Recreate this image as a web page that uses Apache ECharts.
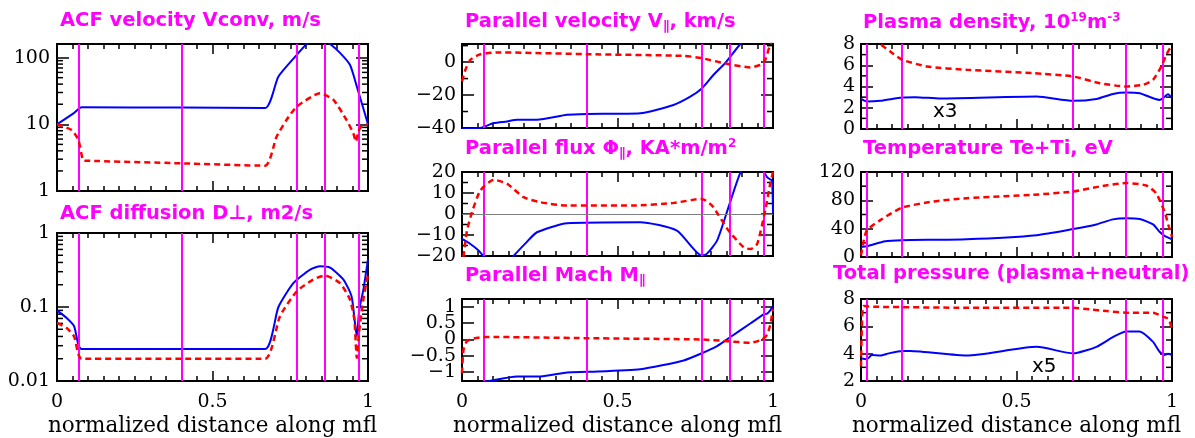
<!DOCTYPE html>
<html><head><meta charset="utf-8">
<script src="https://cdn.jsdelivr.net/npm/echarts@6/dist/echarts.min.js"></script>
<style>html,body{margin:0;padding:0;background:#fff}#c{width:1195px;height:438px}</style>
</head><body><div id="c"></div><script>
// ---------- data ----------
const xName = 'normalized distance along mfl';
const sepLeft = [0.071, 0.400, 0.771, 0.863, 0.974];
const sepRight = [0.020, 0.131, 0.683, 0.854, 0.970];

// Panel 1: ACF velocity Vconv (log)
const velX_b = [0, 0.053, 0.079, 0.40, 0.669, 0.712, 0.771, 0.803, 0.84, 0.878, 0.91, 0.942, 0.964, 1];
const velY_b = [10, 14.6, 18, 17.8, 17.5, 52, 110, 160, 210, 160, 118, 78, 37, 10];
const velX_r = [0, 0.047, 0.069, 0.083, 0.09, 0.40, 0.669, 0.706, 0.738, 0.771, 0.846, 0.889, 0.931, 0.953, 0.961, 0.969, 0.98, 1];
const velY_r = [10, 8.2, 5.8, 2.9, 2.85, 2.6, 2.4, 6.5, 11.6, 18.4, 29.2, 23.2, 11.6, 7.3, 5.5, 7.8, 9.4, 10];
const velMinor = [2,3,4,5,6,7,8,9,20,30,40,50,60,70,80,90];

// Panel 2: ACF diffusion (log)
const difX_b = [0, 0.031, 0.055, 0.079, 0.40, 0.669, 0.712, 0.76, 0.814, 0.846, 0.878, 0.921, 0.947, 0.958, 0.964, 0.972, 0.985, 1];
const difY_b = [0.090, 0.071, 0.055, 0.027, 0.027, 0.027, 0.10, 0.21, 0.32, 0.355, 0.34, 0.235, 0.14, 0.061, 0.040, 0.093, 0.17, 0.44];
const difX_r = [0, 0.031, 0.055, 0.079, 0.40, 0.669, 0.717, 0.771, 0.824, 0.862, 0.91, 0.942, 0.956, 0.964, 0.971, 0.985, 1];
const difY_r = [0.061, 0.052, 0.040, 0.020, 0.020, 0.020, 0.075, 0.163, 0.235, 0.266, 0.21, 0.126, 0.068, 0.0206, 0.045, 0.126, 0.274];
const difMinor = [0.02,0.03,0.04,0.05,0.06,0.07,0.08,0.09,0.2,0.3,0.4,0.5,0.6,0.7,0.8,0.9];

// Panel 3: Parallel velocity
const vpX_b = [0, 0.059, 0.102, 0.145, 0.177, 0.241, 0.338, 0.402, 0.573, 0.68, 0.734, 0.771, 0.809, 0.846, 0.895, 0.95, 1];
const vpY_b = [-40.5, -40, -37, -36, -35, -35, -32, -31.5, -31, -26, -21, -16, -7.7, -0.6, 11, 22, 32];
const vpX_r = [0, 0.011, 0.027, 0.059, 0.123, 0.402, 0.713, 0.771, 0.852, 0.927, 0.96, 0.975, 0.989, 1];
const vpY_r = [-11.7, -4.6, 1.4, 4.8, 5.9, 4.8, 3.8, 2.4, -1, -3.2, -1.6, 1.4, 9.5, 14];
const vpMajor = [-40, -20, 0];
const vpMinor = [-30, -10, 10];

// Panel 4: Parallel flux
const flX_b = [0, 0.027, 0.054, 0.07, 0.09, 0.12, 0.145, 0.166, 0.204, 0.241, 0.338, 0.573, 0.691, 0.771, 0.787, 0.82, 0.857, 0.895, 0.93, 0.97, 0.981, 0.991, 0.997, 1];
const flY_b = [-11.9, -14.3, -17.5, -20.3, -24, -26, -24, -20, -14, -8.7, -4.4, -3.9, -7.9, -19.8, -19, -12.7, 3.3, 19.7, 28, 20, 17.6, 16.5, 16, 0.5];
const flX_r = [0, 0.005, 0.016, 0.032, 0.059, 0.102, 0.145, 0.198, 0.252, 0.338, 0.552, 0.681, 0.771, 0.804, 0.857, 0.906, 0.927, 0.949, 0.975, 0.991, 1];
const flY_r = [-30, -20, -8, 0.8, 11.2, 16.3, 14.4, 8, 5.6, 4, 4, 5.3, 7.2, 4, -7.9, -15.9, -16.7, -14.3, 1.7, 14.4, 20];
const flMajor = [-20, -10, 0, 10, 20];
const flMinor = [-15, -5, 5, 15];

// Panel 5: Parallel Mach
const maX_b = [0, 0.03, 0.06, 0.091, 0.177, 0.252, 0.338, 0.402, 0.573, 0.713, 0.771, 0.82, 0.862, 0.927, 0.97, 0.981, 0.991, 1];
const maY_b = [-1.45, -1.4, -1.33, -1.26, -1.13, -1.13, -1.01, -0.99, -0.91, -0.64, -0.42, -0.2, 0.07, 0.49, 0.77, 0.79, 0.89, 1.03];
const maX_r = [0, 0.005, 0.016, 0.038, 0.07, 0.402, 0.771, 0.852, 0.927, 0.965, 0.981, 0.991, 1];
const maY_r = [-1.03, -0.3, -0.05, 0.03, 0.08, 0.04, 0, -0.05, -0.1, 0, 0.15, 0.44, 0.94];
const maMajor = [-1, 0, 1];
const maMajorHalf = [-0.5, 0.5];
const maMinor = [];

// Panel 6: Plasma density
const deX_b = [0, 0.019, 0.062, 0.132, 0.175, 0.255, 0.565, 0.682, 0.757, 0.81, 0.853, 0.896, 0.96, 0.971, 0.987, 1];
const deY_b = [2.83, 2.58, 2.65, 2.96, 3.0, 2.87, 3.05, 2.65, 2.83, 3.3, 3.43, 3.37, 2.74, 2.9, 3.28, 2.9];
const deX_r = [0, 0.03, 0.062, 0.094, 0.132, 0.212, 0.34, 0.554, 0.682, 0.768, 0.853, 0.907, 0.939, 0.966, 0.982, 1];
const deY_r = [10, 9, 8, 7.3, 6.52, 5.89, 5.57, 5.26, 4.94, 4.31, 4.0, 4.16, 4.63, 5.9, 7.0, 7.94];
const deMajor = [0, 2, 4, 6, 8];
const deMinor = [1, 3, 5, 7];

// Panel 7: Temperature
const teX_b = [0, 0.019, 0.078, 0.132, 0.34, 0.565, 0.682, 0.757, 0.81, 0.853, 0.896, 0.939, 0.96, 0.976, 1];
const teY_b = [14.2, 15.2, 22.3, 23.7, 25.1, 30.8, 39.4, 46, 53.1, 54.6, 53.6, 46, 35.6, 29.9, 25.1];
const teX_r = [0, 0.009, 0.019, 0.062, 0.132, 0.233, 0.34, 0.554, 0.682, 0.768, 0.853, 0.917, 0.949, 0.976, 0.99, 1];
const teY_r = [2.4, 23.7, 38, 52, 69.7, 78.3, 83, 87.8, 92.5, 99.6, 104.4, 101, 90, 64, 42.7, 28.5];
const teMajor = [0, 40, 80, 120];
const teMinor = [20, 60, 100];

// Panel 8: Total pressure
const prX_b = [0, 0.019, 0.035, 0.062, 0.089, 0.132, 0.158, 0.34, 0.565, 0.682, 0.757, 0.81, 0.853, 0.896, 0.939, 0.96, 0.976, 0.987, 1];
const prY_b = [3.67, 3.6, 3.9, 3.86, 4.02, 4.19, 4.19, 3.86, 4.5, 4.02, 4.5, 5.21, 5.62, 5.62, 4.86, 4.14, 3.9, 4.0, 3.9];
const prX_r = [0, 0.003, 0.009, 0.051, 0.34, 0.682, 0.736, 0.79, 0.853, 0.939, 0.971, 0.99, 1];
const prY_r = [3.07, 6.05, 7.48, 7.43, 7.36, 7.36, 7.24, 7.12, 7.0, 7.0, 6.71, 6.52, 5.69];
const prMajor = [2, 4, 6, 8];
const prMinor = [3, 5, 7];

const titles = [
  'ACF velocity Vconv, m/s',
  'ACF diffusion D⊥, m2/s',
  'Parallel velocity V{s|∥}, km/s',
  'Parallel flux Φ{s|∥}, KA*m/m{p|2}',
  'Parallel Mach M{s|∥}',
  'Plasma density, 10{p|19}m{p|-3}',
  'Temperature Te+Ti, eV',
  'Total pressure (plasma+neutral)'
];

// ---------- layout ----------
const BLUE = '#0000ff', RED = '#ff0000', MAG = '#ff00ff';
const W = 311;
const panels = [
  {left:57, top:44, h:147, log:true, yMin:1, yMax:160, maxLabel:false, minor:velMinor, seps:sepLeft, bx:velX_b, by:velY_b, rx:velX_r, ry:velY_r, bottom:false, tl:60, tt:10},
  {left:57, top:233, h:149, log:true, yMin:0.01, yMax:1, maxLabel:true, minor:difMinor, seps:sepLeft, bx:difX_b, by:difY_b, rx:difX_r, ry:difY_r, bottom:true, tl:60, tt:203},
  {left:462, top:44, h:84, yMin:-40, yMax:11, major:vpMajor, minor:vpMinor, seps:sepLeft, bx:vpX_b, by:vpY_b, rx:vpX_r, ry:vpY_r, bottom:false, tl:465, tt:11},
  {left:462, top:172, h:84, yMin:-20, yMax:20, major:flMajor, minor:flMinor, seps:sepLeft, bx:flX_b, by:flY_b, rx:flX_r, ry:flY_r, bottom:false, tl:465, tt:138, zero:true},
  {left:462, top:299, h:84, yMin:-1.27, yMax:1.24, major:maMajor, major2:maMajorHalf, minor:maMinor, seps:sepLeft, bx:maX_b, by:maY_b, rx:maX_r, ry:maY_r, bottom:true, tl:465, tt:265},
  {left:861, top:44, h:85, yMin:0, yMax:8, major:deMajor, minor:deMinor, seps:sepRight, bx:deX_b, by:deY_b, rx:deX_r, ry:deY_r, bottom:false, tl:863, tt:12},
  {left:861, top:172, h:85, yMin:0, yMax:120, major:teMajor, minor:teMinor, seps:sepRight, bx:teX_b, by:teY_b, rx:teX_r, ry:teY_r, bottom:false, tl:863, tt:138},
  {left:861, top:299, h:84, yMin:2, yMax:8, major:prMajor, minor:prMinor, seps:sepRight, bx:prX_b, by:prY_b, rx:prX_r, ry:prY_r, bottom:true, tl:833, tt:263}
];

const tickLine = {color:'#000', width:1.5};
const labelFont = {fontFamily:'DejaVu Serif', fontSize:19, color:'#000'};
const fmt = v => (v < 0 ? '\u2212' + Math.abs(v) : String(v));
const zip = (xs, ys) => xs.map((x, k) => [x, ys[k]]);

const grids = [], xAxes = [], yAxes = [], series = [], titleOpts = [];
panels.forEach((p, i) => {
  grids.push({left:p.left, top:p.top, width:W, height:p.h, show:true, borderColor:'#000', borderWidth:2, backgroundColor:'transparent'});
  const xb = xAxes.length;
  const xCommon = {gridIndex:i, type:'value', min:0, max:1, interval:0.5,
    axisLine:{show:false, onZero:false}, splitLine:{show:false}, minorSplitLine:{show:false},
    axisTick:{show:true, inside:true, length:10, lineStyle:tickLine},
    minorTick:{show:true, splitNumber:10, length:5, lineStyle:tickLine}};
  xAxes.push(Object.assign({}, xCommon, {position:'bottom',
    axisLabel:Object.assign({show:p.bottom, margin:12, hideOverlap:false}, labelFont),
    name:p.bottom ? xName : '', nameLocation:'middle', nameGap:34,
    nameTextStyle:{fontFamily:'DejaVu Serif', fontSize:21.5, color:'#000'}}));
  xAxes.push(Object.assign({}, xCommon, {position:'top', axisLabel:{show:false}}));

  const yb = yAxes.length;
  let yCommon;
  if (p.log) {
    yCommon = {gridIndex:i, type:'log', logBase:10, min:p.yMin, max:p.yMax,
      axisLine:{show:false, onZero:false}, splitLine:{show:false},
      axisTick:{show:true, inside:true, length:12, lineStyle:tickLine}};
    yAxes.push(Object.assign({}, yCommon, {position:'left',
      axisLabel:Object.assign({margin:7, showMaxLabel:p.maxLabel, hideOverlap:false, formatter:v => String(v)}, labelFont)}));
    yAxes.push(Object.assign({}, yCommon, {position:'right', axisLabel:{show:false}}));
  } else {
    const allMajor = p.major.concat(p.major2 || []);
    yCommon = {gridIndex:i, type:'value', min:p.yMin, max:p.yMax,
      axisLine:{show:false, onZero:false}, splitLine:{show:false},
      axisTick:{show:true, inside:true, length:12, customValues:allMajor, lineStyle:tickLine}};
    yAxes.push(Object.assign({}, yCommon, {position:'left',
      axisLabel:Object.assign({margin:6, customValues:p.major, hideOverlap:false,
        showMinLabel:true, showMaxLabel:true, formatter:fmt}, labelFont)}));
    yAxes.push(Object.assign({}, yCommon, {position:'right', axisLabel:{show:false}}));
    if (p.major2) {
      // second label layer so that closely spaced labels are all shown
      yAxes.push(Object.assign({}, yCommon, {position:'left', axisTick:{show:false},
        axisLabel:Object.assign({margin:6, customValues:p.major2, hideOverlap:false, formatter:fmt}, labelFont)}));
    }
  }

  // minor y ticks on both sides
  series.push({type:'custom', xAxisIndex:xb, yAxisIndex:yb, silent:true, clip:false, z:3,
    data:p.minor.map(v => [0, v]),
    renderItem:(params, api) => {
      const v = api.value(1);
      const a = api.coord([0, v]), b = api.coord([1, v]);
      return {type:'group', children:[
        {type:'line', shape:{x1:a[0], y1:a[1], x2:a[0] + 6, y2:a[1]}, style:{stroke:'#000', lineWidth:1.5}},
        {type:'line', shape:{x1:b[0], y1:b[1], x2:b[0] - 6, y2:b[1]}, style:{stroke:'#000', lineWidth:1.5}}
      ]};
    }});

  const ml = p.seps.map(v => ({xAxis:v}));
  if (p.zero) ml.push({yAxis:0, lineStyle:{color:'#808080', width:1, type:'solid'}});
  series.push({type:'line', xAxisIndex:xb, yAxisIndex:yb, data:[], silent:true, z:2,
    markLine:{silent:true, symbol:['none','none'], label:{show:false}, animation:false,
      lineStyle:{color:MAG, width:2, type:'solid'}, data:ml}});
  series.push({type:'line', xAxisIndex:xb, yAxisIndex:yb, data:zip(p.bx, p.by), showSymbol:false,
    smooth:0.2, clip:true, z:4, color:BLUE, lineStyle:{color:BLUE, width:2}});
  series.push({type:'line', xAxisIndex:xb, yAxisIndex:yb, data:zip(p.rx, p.ry), showSymbol:false,
    smooth:0.2, clip:true, z:5, color:RED, lineStyle:{color:RED, width:2.5, type:[6, 4]}});

  titleOpts.push({text:titles[i], left:p.tl, top:p.tt, padding:0,
    textStyle:{fontFamily:'DejaVu Sans', fontWeight:'bold', fontSize:19.5, color:MAG, lineHeight:22,
      rich:{
        s:{fontFamily:'DejaVu Sans', fontWeight:'bold', fontSize:13, color:MAG, lineHeight:6, verticalAlign:'bottom'},
        p:{fontFamily:'DejaVu Sans', fontWeight:'bold', fontSize:12, color:MAG, lineHeight:14, verticalAlign:'top'}
      }}});
});

const chart = echarts.init(document.getElementById('c'), null, {renderer:'canvas'});
chart.setOption({
  animation:false,
  backgroundColor:'#fff',
  title:titleOpts,
  grid:grids, xAxis:xAxes, yAxis:yAxes, series:series,
  graphic:[
    {type:'text', left:933, top:102, style:{text:'x3', fontFamily:'DejaVu Sans', fontSize:20, fill:'#000'}},
    {type:'text', left:1032, top:357, style:{text:'x5', fontFamily:'DejaVu Sans', fontSize:20, fill:'#000'}}
  ]
});
</script></body></html>
